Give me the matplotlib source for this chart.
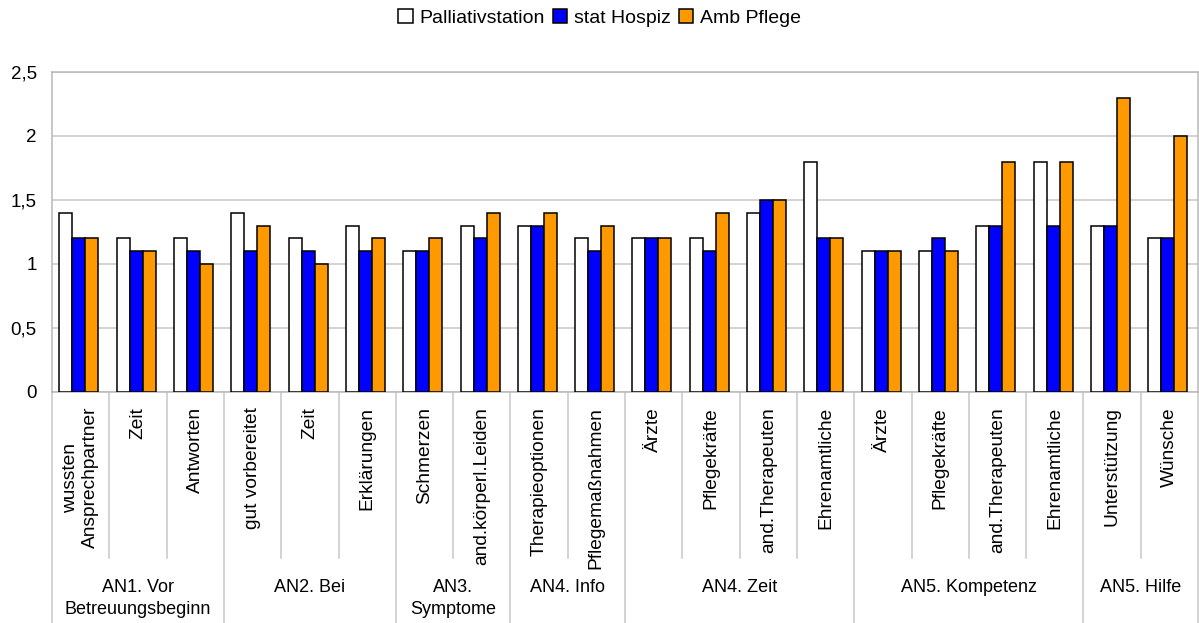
import numpy as np
import matplotlib
matplotlib.use("Agg")
import matplotlib.pyplot as plt
from matplotlib.patches import Patch

plt.rcParams['font.family'] = ['Liberation Sans', 'DejaVu Sans']

categories = ["wussten\nAnsprechpartner", "Zeit", "Antworten",
              "gut vorbereitet", "Zeit", "Erklärungen",
              "Schmerzen", "and.körperl.Leiden",
              "Therapieoptionen", "Pflegemaßnahmen",
              "Ärzte", "Pflegekräfte", "and.Therapeuten", "Ehrenamtliche",
              "Ärzte", "Pflegekräfte", "and.Therapeuten", "Ehrenamtliche",
              "Unterstützung", "Wünsche"]
groups = ["AN1. Vor\nBetreuungsbeginn", "AN2. Bei", "AN3.\nSymptome", "AN4. Info",
          "AN4. Zeit", "AN5. Kompetenz", "AN5. Hilfe"]
group_sizes = [3, 3, 2, 2, 4, 4, 2]

series = ["Palliativstation", "stat Hospiz", "Amb Pflege"]
palliativ = [1.4, 1.2, 1.2, 1.4, 1.2, 1.3, 1.1, 1.3, 1.3, 1.2,
             1.2, 1.2, 1.4, 1.8, 1.1, 1.1, 1.3, 1.8, 1.3, 1.2]
hospiz = [1.2, 1.1, 1.1, 1.1, 1.1, 1.1, 1.1, 1.2, 1.3, 1.1,
          1.2, 1.1, 1.5, 1.2, 1.1, 1.2, 1.3, 1.3, 1.3, 1.2]
amb = [1.2, 1.1, 1.0, 1.3, 1.0, 1.2, 1.2, 1.4, 1.4, 1.3,
       1.2, 1.4, 1.5, 1.2, 1.1, 1.1, 1.8, 1.8, 2.3, 2.0]
colors = ["#ffffff", "#0000ff", "#ff9900"]
yticks = [0, 0.5, 1, 1.5, 2, 2.5]
ytick_labels = ["0", "0,5", "1", "1,5", "2", "2,5"]

W, H = 1199, 623
fig = plt.figure(figsize=(W / 100, H / 100), dpi=100)
ax = fig.add_axes([52 / W, (H - 392) / H, (1198 - 52) / W, (392 - 72) / H])

x = np.arange(len(categories))
bw = 0.227
for i, vals in enumerate([palliativ, hospiz, amb]):
    ax.bar(x + (i - 1) * bw - 0.03, vals, bw, color=colors[i], edgecolor="black",
           linewidth=1.1, zorder=3, label=series[i])

ax.set_xlim(-0.5, len(categories) - 0.5)
ax.set_ylim(0, 2.5)
ax.set_yticks(yticks)
ax.set_yticklabels(ytick_labels, fontsize=13.5)
ax.tick_params(axis="y", length=0, pad=11)
ax.yaxis.grid(True, color="#c8c8c8", linewidth=1.1, zorder=0)
for s in ax.spines.values():
    s.set_color("#b8b8b8")
    s.set_linewidth(1.1)
ax.set_xticks([])

# category labels and separators below the axis
tr = ax.get_xaxis_transform()
px = 1 / (392 - 72)
for i, lab in enumerate(categories):
    ax.text(i, -15 * px, lab, rotation=90, ha="center", va="top", ma="center",
            fontsize=13.8, transform=tr)
bounds = np.cumsum([0] + group_sizes)
for i in range(len(categories) + 1):
    if i in bounds:
        y1 = -(623 - 392) * px
    else:
        y1 = -(558 - 392) * px
    ax.plot([i - 0.5, i - 0.5], [0, y1], color="#c8c8c8", lw=1.1,
            transform=tr, clip_on=False)
for g, lab in enumerate(groups):
    xc = (bounds[g] + bounds[g + 1]) / 2 - 0.5
    ax.text(xc, -(579 - 392) * px, lab, ha="center", va="top", ma="center",
            fontsize=13, linespacing=1.4, transform=tr)

handles = [Patch(facecolor=c, edgecolor="black", linewidth=1.1) for c in colors]
fig.legend(handles, series, loc="center", bbox_to_anchor=(0.5, 1 - 18 / H),
           ncol=3, frameon=False, fontsize=14, handlelength=0.75,
           handleheight=0.75, handletextpad=0.35, columnspacing=0.4)

fig.savefig("out.png", dpi=100)
